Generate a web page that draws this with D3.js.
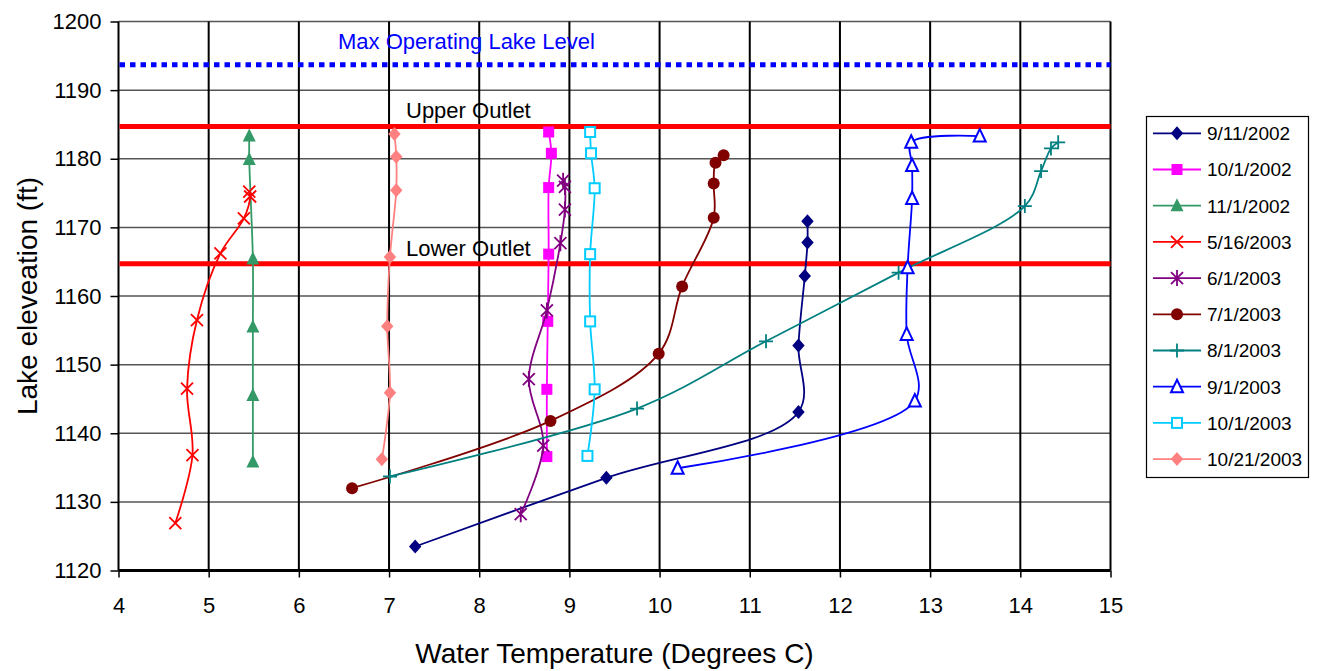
<!DOCTYPE html>
<html lang="en">
  <head>
    <meta charset="UTF-8" />
    <title>Lake temperature profiles</title>
    <script src="https://d3js.org/d3.v7.min.js"></script>
    <style>
      body { margin: 0; background: #fff; }
      text { font-family: "Liberation Sans", Arial, sans-serif; }
      .tick text { font-size: 22px; fill: #000; }
    </style>
  </head>
  <body>
    <svg width="1317" height="671"></svg>
    <script>
      // series labels (legend order)
      const seriesNames = ["9/11/2002", "10/1/2002", "11/1/2002", "5/16/2003", "6/1/2003",
        "7/1/2003", "8/1/2003", "9/1/2003", "10/1/2003", "10/21/2003"];

      // [water temperature (C), lake elevation (ft)]
      const s_091102 = [[11.64, 1170.9], [11.64, 1167.8], [11.61, 1162.9], [11.54, 1152.8], [11.54, 1143.1], [9.41, 1133.5], [7.29, 1123.5]];
      const s_100102 = [[8.77, 1183.9], [8.80, 1180.8], [8.77, 1175.8], [8.77, 1166.1], [8.76, 1156.3], [8.75, 1146.4], [8.75, 1136.6]];
      const s_110102 = [[5.45, 1183.3], [5.45, 1179.9], [5.49, 1165.4], [5.49, 1155.5], [5.49, 1145.5], [5.49, 1135.8]];
      const s_051603 = [[5.45, 1175.2], [5.46, 1174.5], [5.39, 1171.3], [5.13, 1166.2], [4.87, 1156.5], [4.76, 1146.5], [4.82, 1136.8], [4.63, 1126.9]];
      const s_060103 = [[8.93, 1176.8], [8.95, 1175.9], [8.95, 1172.6], [8.90, 1167.7], [8.75, 1157.9], [8.55, 1147.9], [8.71, 1138.2], [8.46, 1128.2]];
      const s_070103 = [[10.71, 1180.5], [10.62, 1179.4], [10.60, 1176.4], [10.60, 1171.4], [10.25, 1161.4], [9.99, 1151.6], [8.79, 1141.8], [6.59, 1132.0]];
      const s_080103 = [[14.42, 1182.4], [14.34, 1181.5], [14.23, 1178.2], [14.05, 1173.1], [12.65, 1163.4], [11.18, 1153.4], [9.75, 1143.6], [7.01, 1133.7]];
      const s_090103 = [[13.55, 1183.3], [12.79, 1182.4], [12.80, 1179.0], [12.80, 1174.2], [12.75, 1164.1], [12.74, 1154.4], [12.83, 1144.7], [10.20, 1134.9]];
      const s_100103 = [[9.23, 1183.9], [9.24, 1180.8], [9.28, 1175.7], [9.23, 1166.1], [9.23, 1156.3], [9.28, 1146.4], [9.20, 1136.7]];
      const s_102103 = [[7.06, 1183.6], [7.08, 1180.3], [7.08, 1175.4], [7.01, 1165.7], [6.98, 1155.6], [7.01, 1145.9], [6.92, 1136.2]];
      const seriesData = [s_091102, s_100102, s_110102, s_051603, s_060103, s_070103, s_080103, s_090103, s_100103, s_102103];

      // horizontal reference levels
      const refNames = ["Max Operating Lake Level", "Upper Outlet", "Lower Outlet"];
      const refLevels = [1193.7, 1184.7, 1164.7];

      const xTicks = [4, 5, 6, 7, 8, 9, 10, 11, 12, 13, 14, 15];
      const yTicks = [1120, 1130, 1140, 1150, 1160, 1170, 1180, 1190, 1200];

      const colors = ["#000080", "#FF00FF", "#339966", "#FF0000", "#800080",
        "#800000", "#008080", "#0000FF", "#00CCFF", "#FF8080"];
      const shapes = ["diamond", "square", "triangle", "x", "star",
        "circle", "plus", "otriangle", "osquare", "diamond"];

      const svg = d3.select("svg");
      const x = d3.scaleLinear().domain([4, 15]).range([118.5, 1110.5]);
      const y = d3.scaleLinear().domain([1120, 1200]).range([570.5, 21.5]);

      // grid
      svg.append("g").selectAll("line").data(yTicks.slice(1)).join("line")
        .attr("x1", x(4)).attr("x2", x(15))
        .attr("y1", d => y(d)).attr("y2", d => y(d))
        .attr("stroke", "#555").attr("stroke-width", 1.5);
      svg.append("g").selectAll("line").data(xTicks.slice(1)).join("line")
        .attr("x1", d => x(d)).attr("x2", d => x(d))
        .attr("y1", y(1200)).attr("y2", y(1120))
        .attr("stroke", "#000").attr("stroke-width", 2);

      // axes
      const xAxis = svg.append("g")
        .attr("transform", `translate(0,${y(1120)})`)
        .call(d3.axisBottom(x).tickValues(xTicks).tickSize(7).tickPadding(20).tickFormat(d3.format("d")));
      xAxis.select(".domain").attr("stroke-width", 3).attr("d", `M${x(4)},0H${x(15)}`);
      xAxis.selectAll(".tick line").attr("stroke-width", 1.5);

      const yAxis = svg.append("g")
        .attr("transform", `translate(${x(4)},0)`)
        .call(d3.axisLeft(y).tickValues(yTicks).tickSize(8).tickPadding(9).tickFormat(d3.format("d")));
      yAxis.select(".domain").attr("stroke-width", 2).attr("d", `M0,${y(1200)}V${y(1120)}`);
      yAxis.selectAll(".tick line").attr("stroke-width", 1.5);

      // reference lines
      svg.append("g").selectAll("line").data(refLevels).join("line")
        .attr("x1", x(4) + 1).attr("x2", x(15))
        .attr("y1", d => y(d)).attr("y2", d => y(d))
        .attr("stroke", (d, i) => i === 0 ? "#0000FF" : "#FF0000")
        .attr("stroke-width", 5)
        .attr("stroke-dasharray", (d, i) => i === 0 ? "5.5,5" : null);

      svg.append("g").selectAll("text").data(refNames).join("text")
        .attr("x", (d, i) => i === 0 ? 338 : 406)
        .attr("y", (d, i) => y(refLevels[i]) - (i === 0 ? 16 : 8))
        .attr("fill", (d, i) => i === 0 ? "#0000FF" : "#000")
        .style("font-size", "22px")
        .text(d => d);

      // markers
      function marker(g, shape, color) {
        if (shape === "diamond") {
          g.append("path").attr("d", "M0,-7L6.2,0L0,7L-6.2,0Z").attr("fill", color);
        } else if (shape === "square") {
          g.append("rect").attr("x", -5.5).attr("y", -5.5).attr("width", 11).attr("height", 11).attr("fill", color);
        } else if (shape === "triangle") {
          g.append("path").attr("d", "M0,-7.5L6.5,5.5L-6.5,5.5Z").attr("fill", color);
        } else if (shape === "otriangle") {
          g.append("path").attr("d", "M0,-7L6,5.5L-6,5.5Z").attr("fill", "#fff")
            .attr("stroke", color).attr("stroke-width", 2);
        } else if (shape === "osquare") {
          g.append("rect").attr("x", -5).attr("y", -5).attr("width", 10).attr("height", 10)
            .attr("fill", "#fff").attr("stroke", color).attr("stroke-width", 2);
        } else if (shape === "circle") {
          g.append("circle").attr("r", 6).attr("fill", color);
        } else if (shape === "x") {
          g.append("path").attr("d", "M-6,-6L6,6M-6,6L6,-6").attr("stroke", color).attr("stroke-width", 1.8);
        } else if (shape === "star") {
          g.append("path").attr("d", "M-6,-6L6,6M-6,6L6,-6M0,-8V8").attr("stroke", color).attr("stroke-width", 1.8);
        } else if (shape === "plus") {
          g.append("path").attr("d", "M-7,0H7M0,-7V7").attr("stroke", color).attr("stroke-width", 1.8);
        }
      }

      const line = d3.line()
        .x(d => x(d[0])).y(d => y(d[1]))
        .curve(d3.curveCatmullRom.alpha(0.5));

      seriesData.forEach((data, i) => {
        const g = svg.append("g");
        g.append("path").datum(data)
          .attr("d", line)
          .attr("fill", "none")
          .attr("stroke", colors[i])
          .attr("stroke-width", 1.8);
        g.selectAll("g").data(data).join("g")
          .attr("transform", d => `translate(${x(d[0])},${y(d[1])})`)
          .each(function () { marker(d3.select(this), shapes[i], colors[i]); });
      });

      // axis titles
      svg.append("text")
        .attr("transform", `translate(37,${(y(1200) + y(1120)) / 2}) rotate(-90)`)
        .attr("text-anchor", "middle")
        .style("font-size", "28px")
        .text("Lake eleveation (ft)");
      svg.append("text")
        .attr("x", (x(4) + x(15)) / 2).attr("y", 663)
        .attr("text-anchor", "middle")
        .style("font-size", "28px")
        .text("Water Temperature (Degrees C)");

      // legend
      const legend = svg.append("g");
      legend.append("rect")
        .attr("x", 1146.5).attr("y", 116.5).attr("width", 162).attr("height", 361)
        .attr("fill", "#fff").attr("stroke", "#000").attr("stroke-width", 1.2);
      const item = legend.selectAll("g").data(seriesNames).join("g")
        .attr("transform", (d, i) => `translate(0,${133.3 + i * 36.2})`);
      item.append("line")
        .attr("x1", 1153).attr("x2", 1201)
        .attr("stroke", (d, i) => colors[i]).attr("stroke-width", 1.8);
      item.append("g").attr("transform", "translate(1177,0)")
        .each(function (d, i) { marker(d3.select(this), shapes[i], colors[i]); });
      item.append("text")
        .attr("x", 1207).attr("dy", "0.36em")
        .style("font-size", "19px")
        .text(d => d);
    </script>
  </body>
</html>
